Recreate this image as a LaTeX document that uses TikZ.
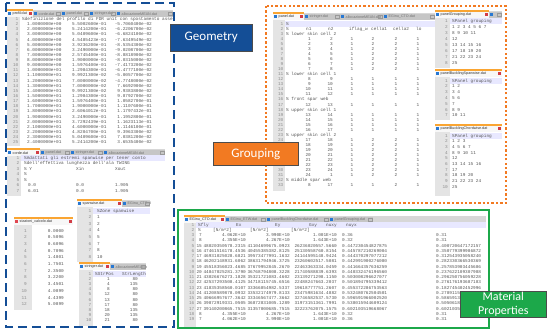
\documentclass[tikz,border=0pt]{standalone}
\usepackage{fontspec}
\newfontfamily\codefont{Liberation Mono}
\newfontfamily\tabfont{Liberation Sans}
\newfontfamily\boxfont{Carlito}
\definecolor{geoblue}{RGB}{20,78,150}
\definecolor{grouporange}{RGB}{242,122,34}
\definecolor{matgreen}{RGB}{28,168,74}
\definecolor{gutterbg}{RGB}{228,228,228}
\definecolor{tabbarbg}{RGB}{215,215,215}
\definecolor{tabgray}{RGB}{198,198,198}
\definecolor{tabline}{RGB}{250,165,50}
\definecolor{iconblue}{RGB}{40,120,210}
\definecolor{iconred}{RGB}{225,70,80}
\definecolor{closered}{RGB}{210,60,70}
\definecolor{curline}{RGB}{232,232,255}
\definecolor{codetext}{RGB}{85,85,85}
\tikzset{code/.style={font=\codefont\fontsize{4.4}{5}\selectfont,text=codetext,inner sep=0pt,text height=3pt,text depth=.9pt,anchor=west},
  codeR/.style={code,anchor=east},
  lnum/.style={code,text=black!45,anchor=east},
  tabname/.style={font=\tabfont\fontsize{3.7}{4}\selectfont,inner sep=0pt,anchor=west,text=black!80},
  labelbox/.style={draw=black!70,line width=.6pt,text=white,font=\boxfont\fontsize{13}{15}\selectfont,inner sep=0pt,anchor=north west,align=center}}
% window: x1, y1 (top of tab bar), x2, y2, gutter right
\newcommand\codewin[5]{\clip (#1,#2-1) rectangle (#3,#4);
  \fill[white] (#1,#2) rectangle (#3,#4);
  \fill[tabbarbg] (#1,#2) rectangle (#3,#2+6.5);
  \fill[gutterbg] (#1,#2+6.5) rectangle (#5,#4);}
% active tab: [icon colour] x1, x2, y, name, node
\newcommand\acttab[6][iconblue]{\fill[black!3] (#2,#4) rectangle (#3,#4+6.5);
  \fill[tabline] (#2,#4-.7) rectangle (#3,#4+.7);
  \fill[#1] (#2+1.2,#4+2) rectangle (#2+4.2,#4+5.2);
  \node[tabname] (#6) at (#2+5.5,#4+3.7) {#5};
  \fill[closered] (#3-4.4,#4+1.9) rectangle (#3-1.2,#4+5.1);}
\newcommand\othtab[5]{\fill[tabgray] (#1,#3+1) rectangle (#2-.5,#3+6.5);
  \fill[iconblue] (#1+1.2,#3+2) rectangle (#1+4.2,#3+5.2);
  \node[tabname,text=black!55] (#5) at (#1+5.5,#3+3.7) {#4};
  \draw[black!40,line width=.3pt] (#2-4.4,#3+1.9) rectangle (#2-1.2,#3+5.1);}
% line numbers: count, x, y0, dy, prefix
\newcommand\lnums[5]{\foreach \nr in {1,...,#1}{\node[lnum] (#5\nr) at (#2,{#3+(\nr-1)*#4}) {\nr};}}

\begin{document}
\begin{tikzpicture}[x=1pt,y=-1pt]
\useasboundingbox (0,0) rectangle (550,333);

% ---------- geometry files
\begin{scope}
\codewin{7}{10}{173}{146}{20}
\acttab{7}{33}{10}{profil.dat}{tprof}\othtab{33}{61}{10}{corde.dat}{tprof2}\othtab{61}{89}{10}{panel.dat}{tprof3}
\othtab{89}{116}{10}{stringer.dat}{tprof4}\othtab{116}{173}{10}{allocazioneMEAN.dat}{tprof5}
\lnums{25}{18.5}{19.5}{5.13}{pn}
\node[code] (p1) at (22,19.5) {\%definizione del profilo di FDR unit con spostamento asse};
\foreach \a/\b/\c [count=\i] in {1.0000000e+00/5.5002600e-01/-5.7060400e-02,2.0000000e+00/5.2414200e-01/-6.2206700e-02,
  3.0000000e+00/5.0409600e-01/-6.6824100e-02,4.0000000e+00/4.5485423e-01/-7.6349549e-02,5.0000000e+00/3.9236200e-01/-8.5354300e-02,
  6.0000000e+00/3.2490000e-01/-9.0208700e-02,7.0000000e+00/2.5745400e-01/-8.8818900e-02,8.0000000e+00/1.9000000e-01/-8.0315000e-02,
  9.0000000e+00/1.5976400e-01/-7.4173200e-02,1.0000000e+01/1.2984300e-01/-6.4777100e-02,1.1000000e+01/9.9921300e-02/-5.0057700e-02,
  1.2000000e+01/7.0000000e-02/-4.7748000e-02,1.3000000e+01/7.0000000e-02/7.6692900e-02,1.4000000e+01/9.9921300e-02/9.9383800e-02,
  1.5000000e+01/1.2984300e-01/9.8792700e-02,1.6000000e+01/1.5976400e-01/1.0582700e-01,1.7000000e+01/1.9000000e-01/1.1107600e-01,
  1.8000000e+01/2.6064012e-01/1.1797432e-01,1.9000000e+01/3.2490000e-01/1.1952800e-01,2.0000000e+01/3.7292439e-01/1.1623113e-01,
  2.1000000e+01/4.6000000e-01/1.1146100e-01,2.2000000e+01/4.8204700e-01/9.3963300e-02,2.3000000e+01/5.0409600e-01/7.0381200e-02,
  2.4000000e+01/5.2414200e-01/3.6535400e-02}{
  \node[code] (pa\i) at (27,{19.5+\i*5.13}) {\a};\node[code] (pb\i) at (72,{19.5+\i*5.13}) {\b};\node[codeR] (pc\i) at (152,{19.5+\i*5.13}) {\c};}
\end{scope}

\begin{scope}
\codewin{7}{149}{165}{196}{21}
\acttab{7}{40}{149}{corde.dat}{tcor}\othtab{40}{70}{149}{panel.dat}{tcor2}\othtab{70}{103}{149}{stringer.dat}{tcor3}\othtab{103}{165}{149}{allocazioneMEAN.dat}{tcor4}
\fill[curline] (21,155.4) rectangle (165,160.6);
\lnums{7}{19.5}{158}{5.5}{cn}
\node[code] (c1) at (24,158) {\%Adattati gli estremi spanwise per tener conto};
\node[code] (c2) at (24,163.5) {\%dell'effettiva lunghezza dell'ala TWING};
\node[code] (c3) at (24,169) {\% Y};\node[code] (c3b) at (76,169) {Xin};\node[code] (c3c) at (115,169) {Xout};
\node[code] (c4) at (24,174.5) {\%};\node[code] (c5) at (24,180) {\%};
\foreach \a/\b/\c [count=\i from 6] in {0.0/0.0/1.905,6.01/0.0/1.905}{
  \node[code] (ca\i) at (28,{158+(\i-1)*5.5}) {\a};\node[code] (cb\i) at (76,{158+(\i-1)*5.5}) {\b};\node[code] (cc\i) at (115,{158+(\i-1)*5.5}) {\c};}
\end{scope}

\begin{scope}
\codewin{77}{200}{150}{262}{93}
\acttab{77}{122}{200}{spanwise.dat}{tspan}\othtab{122}{150}{200}{EGinu\_CTO.dat}{tspan2}
\fill[curline] (93,208.4) rectangle (150,213.6);
\lnums{8}{91.5}{211}{6.6}{sn}
\foreach \t [count=\i] in {\%Zone spanwise,1,2,4,5,7,8,10}{\node[code] (s\i) at (97,{211+(\i-1)*6.6}) {\t};}
\end{scope}

\begin{scope}
\codewin{14}{218}{73}{310}{32}
\acttab[iconred]{14}{73}{218}{stazioni\_calcolo.dat}{tsta}
\lnums{12}{27}{231}{6.7}{zn}
\foreach \t [count=\i] in {0.0000,0.5096,0.6096,0.7096,1.4801,1.7501,2.3500,3.2200,3.4501,4.0899,4.4399,5.0899}{
  \node[codeR] (z\i) at (64,{231+(\i-1)*6.7}) {\t};}
\end{scope}

\begin{scope}
\codewin{79}{263}{146}{326}{93}
\acttab{79}{110}{263}{stringer.dat}{tstr}\othtab{110}{146}{263}{allocazioneMEAN.dat}{tstr2}
\fill[curline] (93,271.4) rectangle (146,276.6);
\lnums{10}{91.5}{274}{5.2}{rn}
\node[code] (r1) at (95,274) {\%StrPos};\node[code] (r1b) at (122,274) {StrLength};
\foreach \a/\b [count=\i from 2] in {1/80,4/135,8/80,12/80,13/80,17/80,18/135,20/135,21/80}{
  \node[codeR] (ra\i) at (110,{274+(\i-1)*5.2}) {\a};\node[codeR] (rb\i) at (138,{274+(\i-1)*5.2}) {\b};}
\end{scope}

% ---------- grouping files
\begin{scope}
\codewin{273}{13}{435}{191}{285}
\acttab{273}{304}{13}{panel.dat}{tpan}\othtab{304}{340}{13}{stringer.dat}{tpan2}\othtab{340}{383}{13}{allocazioneMEAN.dat}{tpan3}\othtab{383}{435}{13}{EGinu\_CTO.dat}{tpan4}
\fill[curline] (285,21.4) rectangle (435,26.6);
\lnums{33}{283.5}{24}{5.06}{an}
\foreach \r/\t in {1/\%,3/\% lower skin cell 2,11/\% lower skin cell 1,16/\% front spar web,18/\% upper skin cell 1,23/\% upper skin cell 2,32/\% middle spar web}{
  \node[code] (ac\r) at (286,{24+(\r-1)*5.06}) {\t};}
\foreach \h/\x in {\%/286,n1/306,n2/328,iflag\_w/349,cella1/371,cella2/393,lo/416}{\node[code] (h\x) at (\x,29.06) {\h};}
\foreach \r/\a/\b/\c/\d in {4/1/2/2/2,5/2/3/2/2,6/3/4/2/2,7/4/5/2/2,8/5/6/2/2,9/6/7/2/2,10/7/8/2/2,12/8/9/1/1,13/9/10/1/1,14/10/11/1/1,15/11/12/1/1,
  17/12/13/1/1,19/13/14/1/1,20/14/15/1/1,21/15/16/1/1,22/16/17/1/1,24/17/18/2/2,25/18/19/2/2,26/19/20/2/2,27/20/21/2/2,28/21/22/2/2,
  29/22/23/2/2,30/23/24/2/2,31/24/1/2/2,33/8/17/1/2}{
  \node[codeR] (aa\r) at (311,{24+(\r-1)*5.06}) {\a};\node[codeR] (ab\r) at (333,{24+(\r-1)*5.06}) {\b};
  \node[code,anchor=center] (af\r) at (352,{24+(\r-1)*5.06}) {1};\node[code,anchor=center] (ae\r) at (373,{24+(\r-1)*5.06}) {\c};
  \node[code,anchor=center] (ad\r) at (396,{24+(\r-1)*5.06}) {\d};\node[code,anchor=center] (ag\r) at (418,{24+(\r-1)*5.06}) {1};}
\end{scope}

\begin{scope}
\codewin{435}{11}{502}{68}{450}
\acttab{435}{489}{11}{panelGrouping.dat}{tgr}\othtab{489}{502}{11}{}{tgr2}
\fill[curline] (450,18.4) rectangle (502,23.6);
\lnums{8}{448}{21}{6}{gn}
\foreach \t [count=\i] in {\%Panel grouping,1 2 3 4 5 6 7,8 9 10 11,12,13 14 15 16,17 18 19 20,21 22 23 24,25}{
  \node[code] (g\i) at (452,{21+(\i-1)*6}) {\t};}
\end{scope}

\begin{scope}
\codewin{435}{70}{502}{120}{450}
\acttab{435}{502}{70}{panelBucklingSpanwise.dat}{tbs}
\fill[curline] (450,78.4) rectangle (502,83.6);
\lnums{7}{448}{81}{5.8}{bn}
\foreach \t [count=\i] in {\%Panel grouping,1 2,3 4,5 6,7,8 9,10 11}{\node[code] (b\i) at (452,{81+(\i-1)*5.8}) {\t};}
\end{scope}

\begin{scope}
\codewin{435}{125}{502}{196}{450}
\acttab{435}{502}{125}{panelBucklingChordwise.dat}{tbc}
\fill[curline] (450,133.4) rectangle (502,138.6);
\lnums{10}{448}{136}{5.7}{kn}
\foreach \t [count=\i] in {\%Panel grouping,1 2 3,4 5 6 7,8 9 10 11,12,13 14 15 16,17,18 19 20,21 22 23 24,25}{
  \node[code] (k\i) at (452,{136+(\i-1)*5.7}) {\t};}
\end{scope}

% ---------- material file
\begin{scope}
\codewin{184}{216}{486}{327}{196}
\acttab{184}{225}{216}{EGinu\_CTO.dat}{teg}\othtab{225}{266}{216}{EGinu\_ETW.dat}{teg2}\othtab{266}{329}{216}{panelBucklingChordwise.dat}{teg3}
\othtab{329}{373}{216}{panelGrouping.dat}{teg4}
\fill[curline] (196,222.4) rectangle (486,227.6);
\lnums{19}{194.5}{225}{5.25}{en}
\foreach \h/\x in {\%fly/198,Ex/236,Ey/275,Gxy/309,nuxy/326,nuyx/346}{\node[code] (eh\x) at (\x,225) {\h};}
\node[code] (eu0) at (198,230.25) {\%};
\foreach \x in {213,250,291}{\node[code] (eu\x) at (\x,230.25) {[N/m\textasciicircum2]};}
\foreach \f/\a/\b/\c/\d/\e [count=\i from 3] in {7/4.062E+10/3.990E+10/1.001E+10/0.36/0.31,8/4.355E+10/4.267E+10/1.643E+10/0.32/0.31,
  15/48020350578.2315/41104699675.0923/26236020557.5660/0.447230454827875/0.400720647172157,
  16/47461516178.4536/40455385382.8125/25130558760.8154/0.445787210269004/0.350779399986872,
  17/46931025028.6821/39573477991.1632/24144595148.9424/0.444370297077212/0.312543935058240,
  18/46202148931.6062/38631794946.3725/23260602517.5081/0.442991900276080/0.282330366530369,
  19/45518356023.4685/37679952845.2670/22463363334.0459/0.441664357636259/0.257853903445686,
  20/44847025281.3790/36768794808.3228/21740588839.6393/0.440332476196560/0.237622109307988,
  21/43026676273.1828/35321721083.4602/23139271298.1150/0.503008296627077/0.296250756059228,
  22/42537293508.4125/34718115745.6516/22488247663.2037/0.501894795339412/0.276176193687183,
  23/41835358560.0107/33366854982.5337/19618777751.2607/0.455372286753563/0.182745402452996,
  24/41208589878.0932/33532174979.8133/23475981634.4882/0.532480762504501/0.278911560934127,
  25/40666957677.3642/33346567477.3662/32746582537.5730/0.596591966002520/0.586591348270215,
  26/39872919331.0505/36872831005.1289/31973151361.7991/0.538015944609124/0.505061884721396,
  27/39140200865.7515/31357000685.7515/32223762075.1575/0.602103519668067/0.602103519668067,
  8/4.355E+10/4.267E+10/1.643E+10/0.32/0.31,7/4.062E+10/3.990E+10/1.001E+10/0.36/0.31}{
  \node[codeR] (ef\i) at (202,{225+(\i-1)*5.25}) {\f};\node[codeR] (ea\i) at (246,{225+(\i-1)*5.25}) {\a};
  \node[codeR] (eb\i) at (290,{225+(\i-1)*5.25}) {\b};\node[codeR] (ec\i) at (337,{225+(\i-1)*5.25}) {\c};
  \node[code] (ed\i) at (342,{225+(\i-1)*5.25}) {\d};\node[code] (ee\i) at (436,{225+(\i-1)*5.25}) {\e};}
\end{scope}

% ---------- frames and labels
\draw[geoblue,line width=2.8pt,dash pattern=on 9pt off 5pt] (6,3) rectangle (174,327);
\draw[grouporange,line width=2.3pt,dash pattern=on 2.3pt off 2.1pt] (266,6) rectangle (506,203);
\draw[matgreen,line width=2.5pt] (178,210) rectangle (489,328);
\node[labelbox,fill=geoblue,minimum width=82pt,minimum height=27pt] (geometry) at (170,24) {Geometry};
\node[labelbox,fill=grouporange,minimum width=85pt,minimum height=23pt] (grouping) at (213,142) {Grouping};
\node[labelbox,fill=matgreen,minimum width=86pt,minimum height=26pt,font=\boxfont\fontsize{12}{13.5}\selectfont] (material) at (460,291) {Material\\Properties};
\end{tikzpicture}
\end{document}
